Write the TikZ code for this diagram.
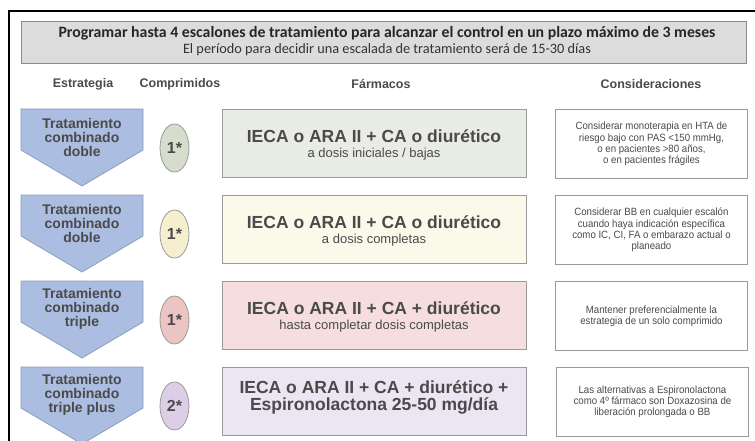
\documentclass[tikz,border=0pt]{standalone}
\usepackage{fontspec}
\setmainfont{Liberation Sans}
\newfontfamily\consfont[FakeStretch=0.92]{Liberation Sans}
\newfontfamily\calfont{Carlito}
\definecolor{hdrfill}{HTML}{DCDCDC}
\definecolor{hdrline}{HTML}{8C8C8C}
\definecolor{arrfill}{HTML}{ABBDE0}
\definecolor{arrline}{HTML}{8E9DBE}
\definecolor{txt}{HTML}{4A4A4A}
\definecolor{boxline}{HTML}{9A9A9A}
\definecolor{gA}{HTML}{E9ECE5}\definecolor{eA}{HTML}{D6DDCC}
\definecolor{gB}{HTML}{FBF9EA}\definecolor{eB}{HTML}{F6EFCF}
\definecolor{gC}{HTML}{F5DEDD}\definecolor{eC}{HTML}{EDC4C4}
\definecolor{gD}{HTML}{ECE6F3}\definecolor{eD}{HTML}{DCCEE7}
\tikzset{
  colhead/.style={font=\bfseries\fontsize{12.5}{14}\selectfont, text=txt, inner sep=0pt},
  arrowshape/.style={draw=arrline, line width=0.8pt, fill=arrfill},
  arrowtext/.style={font=\bfseries\fontsize{14}{14}\selectfont, text=txt, align=center, inner sep=0pt},
  pill/.style={ellipse, draw=boxline, line width=0.8pt, minimum width=29pt, minimum height=48pt, inner sep=0pt, font=\bfseries\fontsize{16}{18}\selectfont, text=txt},
  drugbox/.style={draw=boxline, line width=0.9pt, minimum width=304pt, minimum height=68pt, anchor=north west, inner sep=0pt},
  drugtext/.style={align=center, text=txt, inner sep=0pt},
  consbox/.style={draw=boxline, line width=0.9pt, fill=white, minimum width=192pt, minimum height=69pt, anchor=north west, inner sep=0pt, align=center, text=txt, font=\consfont\fontsize{10.5}{11.3}\selectfont}
}
\usetikzlibrary{shapes.geometric}
\begin{document}
\begin{tikzpicture}[x=1pt,y=-1pt]
\useasboundingbox (0,0) rectangle (755,441);
\fill[white] (0,0) rectangle (755,441);
\coordinate (fbl) at (9,441);
\coordinate (ftl) at (9,11);
\coordinate (ftr) at (755,11);
\draw[line width=1.3pt, line join=miter] (fbl) -- (ftl) -- (ftr);
% header
\node[draw=hdrline, line width=0.9pt, fill=hdrfill, minimum width=725pt, minimum height=42pt, anchor=north west, inner sep=0pt] (hdr) at (21,21) {};
\node[inner sep=0pt, text=black!85] (title) at (387,33) {\calfont\bfseries\fontsize{15.8}{17}\selectfont Programar hasta 4 escalones de tratamiento para alcanzar el control en un plazo máximo de 3 meses};
\node[inner sep=0pt, text=black!80] (subtitle) at (387,50) {\calfont\fontsize{14.3}{16}\selectfont El período para decidir una escalada de tratamiento será de 15-30 días};
% column headings
\node[colhead] (h1) at (83,84) {Estrategia};
\node[colhead] (h2) at (180,84) {Comprimidos};
\node[colhead] (h3) at (381,84) {Fármacos};
\node[colhead] (h4) at (651,84) {Consideraciones};
% rows
\foreach \t/\fillc/\ellc/\num/\name/\mainline/\subline/\cons [count=\i] in {
 109/gA/eA/1*/{Tratamiento\\combinado\\doble}/{IECA o ARA II + CA o diurético}/{a dosis iniciales / bajas}/{Considerar monoterapia en HTA de\\riesgo bajo con PAS <150 mmHg,\\o en pacientes >80 años,\\o en pacientes frágiles},
 195/gB/eB/1*/{Tratamiento\\combinado\\doble}/{IECA o ARA II + CA o diurético}/{a dosis completas}/{Considerar BB en cualquier escalón\\cuando haya indicación específica\\como IC, CI, FA o embarazo actual o\\planeado},
 281/gC/eC/1*/{Tratamiento\\combinado\\triple}/{IECA o ARA II + CA + diurético}/{hasta completar dosis completas}/{Mantener preferencialmente la\\estrategia de un solo comprimido}}
{
  \draw[arrowshape] (21,\t) -- (143,\t) -- (143,\t+41) -- (82,\t+77) -- (21,\t+41) -- cycle;
  \node[arrowtext] (s\i) at (82,\t+28) {\name};
  \node[pill, fill=\ellc] (p\i) at (174.5,\t+39) {\num};
  \node[drugbox, fill=\fillc] (d\i) at (222,\t) {};
  \node[drugtext, font=\bfseries\fontsize{17.5}{17.5}\selectfont] (dm\i) at (374,\t+27) {\mainline};
  \node[drugtext, font=\fontsize{13}{15}\selectfont] (ds\i) at (374,\t+45) {\subline};
  \node[consbox] (c\i) at (555,\t) {\cons};
}
% row 4
\draw[arrowshape] (21,367) -- (143,367) -- (143,408) -- (82,444) -- (21,408) -- cycle;
\node[arrowtext] (s4) at (82,395) {Tratamiento\\combinado\\triple plus};
\node[pill, fill=eD] (p4) at (174.5,406) {2*};
\node[drugbox, fill=gD] (d4) at (222,367) {};
\node[drugtext, font=\bfseries\fontsize{17.5}{17}\selectfont] (dm4) at (374,397) {IECA o ARA II + CA + diurético +\\Espironolactona 25-50 mg/día};
\node[consbox] (c4) at (556,367) {Las alternativas a Espironolactona\\como 4º fármaco son Doxazosina de\\liberación prolongada o BB};
\end{tikzpicture}
\end{document}
